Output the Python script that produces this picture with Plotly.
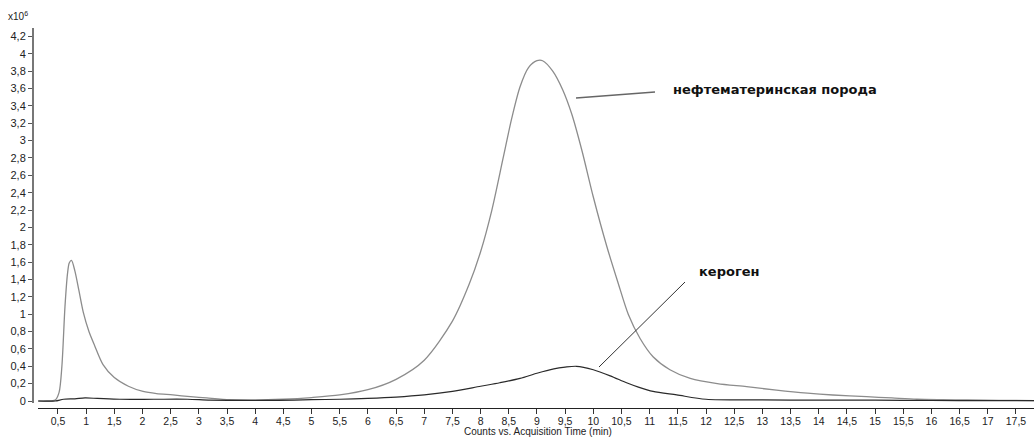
import plotly.graph_objects as go

# ---- data (counts in units of 10^6) ----
rock_t = [0.15, 0.30, 0.45, 0.52, 0.57, 0.625, 0.67, 0.70, 0.74, 0.80, 0.87, 0.95, 1.05, 1.15,
          1.30, 1.50, 1.75, 2.01, 2.25, 2.54, 2.85, 3.14, 3.55, 4.00, 4.50, 5.00, 5.50, 6.00, 6.50,
          7.00, 7.50, 7.80, 8.00, 8.20, 8.40, 8.55, 8.70, 8.85, 9.00, 9.10, 9.28, 9.46, 9.62,
          9.80, 10.00, 10.24, 10.44, 10.62, 10.83, 11.06, 11.36, 11.72, 12.20, 12.72, 13.25,
          13.80, 14.25, 14.85, 15.30, 15.74, 16.20, 16.63, 17.20, 17.82]
rock_v = [0.00, 0.00, 0.01, 0.10, 0.40, 1.09, 1.47, 1.59, 1.62, 1.50, 1.28, 1.02, 0.80, 0.64,
          0.42, 0.27, 0.17, 0.11, 0.085, 0.07, 0.05, 0.035, 0.015, 0.01, 0.02, 0.04, 0.07, 0.13, 0.25,
          0.47, 0.92, 1.35, 1.72, 2.20, 2.80, 3.25, 3.62, 3.84, 3.92, 3.92, 3.80, 3.58, 3.30,
          2.88, 2.35, 1.78, 1.36, 1.00, 0.72, 0.51, 0.36, 0.26, 0.20, 0.165, 0.125,
          0.09, 0.069, 0.05, 0.035, 0.02, 0.015, 0.012, 0.008, 0.005]

kerogen_t = [0.15, 0.45, 0.60, 0.80, 0.98, 1.20, 1.60, 2.20, 2.80, 3.20, 3.80, 4.40, 5.00,
             5.50, 6.00, 6.50, 7.00, 7.50, 8.00, 8.34, 8.70, 9.00, 9.30, 9.50, 9.70, 10.00,
             10.30, 10.59, 10.80, 11.06, 11.48, 12.00, 13.00, 14.00, 15.00, 16.00, 17.00, 17.82]
kerogen_v = [0.00, 0.00, 0.02, 0.025, 0.035, 0.03, 0.02, 0.02, 0.02, 0.01, 0.008, 0.008, 0.015,
             0.02, 0.03, 0.045, 0.07, 0.11, 0.17, 0.21, 0.26, 0.32, 0.37, 0.39, 0.40, 0.36,
             0.29, 0.21, 0.16, 0.11, 0.07, 0.02, 0.012, 0.01, 0.01, 0.006, 0.005, 0.005]

x_ticks = [0.5 * i for i in range(1, 36)]
y_ticks = [round(0.2 * i, 1) for i in range(0, 22)]


def fmt(v):
    s = ("%.1f" % v).rstrip("0").rstrip(".")
    return s.replace(".", ",")


x_tick_text = [fmt(v) for v in x_ticks]
y_tick_text = [fmt(v) for v in y_ticks]

label_rock = "нефтематеринская порода"
label_kerogen = "кероген"
x_title = "Counts vs. Acquisition Time (min)"

# ---- geometry helpers (pixel -> paper) ----
W, H = 1034, 438
L, R, T, B = 33, 0, 28, 30
PW, PH = W - L - R, H - T - B


def px(x):
    return (x - L) / PW


def py(y):
    return (H - B - y) / PH


fig = go.Figure()
fig.add_trace(go.Scatter(x=rock_t, y=rock_v, mode="lines",
                         line=dict(color="#8c8c8c", width=1.3, shape="spline", smoothing=0.8),
                         name=label_rock, hoverinfo="x+y"))
fig.add_trace(go.Scatter(x=kerogen_t, y=kerogen_v, mode="lines",
                         line=dict(color="#2a2a2a", width=1.2, shape="spline", smoothing=0.8),
                         name=label_kerogen, hoverinfo="x+y"))

font_ticks = dict(family="Liberation Sans, Arial, sans-serif", size=11, color="#222")

fig.update_layout(
    width=W, height=H,
    margin=dict(l=L, r=R, t=T, b=B, pad=0),
    plot_bgcolor="white", paper_bgcolor="white",
    showlegend=False,
    xaxis=dict(
        domain=[px(38), 1], range=[0.146, 17.82], anchor="free", position=0,
        tickmode="array", tickvals=x_ticks, ticktext=x_tick_text, automargin=False,
        ticks="outside", ticklen=5, tickcolor="#333", tickwidth=1, ticklabelstandoff=-2,
        showline=True, linecolor="#222", linewidth=1,
        showgrid=False, zeroline=False, tickangle=0,
        tickfont=dict(family="Liberation Sans, Arial, sans-serif", size=10.5, color="#222"),
    ),
    yaxis=dict(
        domain=[py(403), 1], range=[-0.023, 4.297], anchor="free", position=0,
        tickmode="array", tickvals=y_ticks, ticktext=y_tick_text, automargin=False,
        ticks="outside", ticklen=4, tickcolor="#555", tickwidth=1,
        showline=True, linecolor="#777", linewidth=2,
        showgrid=False, zeroline=False, tickfont=font_ticks,
    ),
)

ann_font = dict(family="DejaVu Sans, Liberation Sans, sans-serif", size=13, color="#111")
fig.add_annotation(x=px(671), y=py(89), xref="paper", yref="paper", text="<b>" + label_rock + "</b>",
                   showarrow=False, xanchor="left", yanchor="middle", font=ann_font)
fig.add_annotation(x=px(697), y=py(271), xref="paper", yref="paper", text="<b>" + label_kerogen + "</b>",
                   showarrow=False, xanchor="left", yanchor="middle", font=ann_font)
fig.add_annotation(x=px(538), y=py(438), xref="paper", yref="paper", text=x_title,
                   showarrow=False, xanchor="center", yanchor="bottom", borderpad=0,
                   font=dict(family="Liberation Sans, Arial, sans-serif", size=10, color="#222"))
fig.add_annotation(x=px(6), y=py(16), xref="paper", yref="paper", text="x10<sup>6</sup>",
                   showarrow=False, xanchor="left", yanchor="middle",
                   font=dict(family="Liberation Sans, Arial, sans-serif", size=10, color="#222"))

fig.add_shape(type="line", xref="paper", yref="paper", x0=px(576), y0=py(98), x1=px(655), y1=py(92),
              line=dict(color="#666", width=1.3))
fig.add_shape(type="line", xref="paper", yref="paper", x0=px(685), y0=py(282), x1=px(599), y1=py(367),
              line=dict(color="#333", width=1))

fig.write_html("out.html", config={"displayModeBar": False},
               post_script="document.body.style.margin='0';document.body.style.overflow='hidden';")
